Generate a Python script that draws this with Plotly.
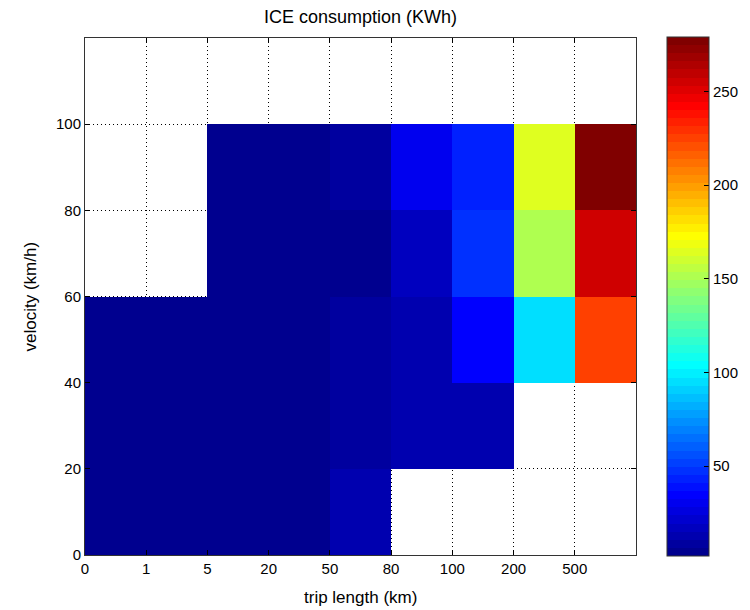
import numpy as np
import plotly.graph_objects as go

# Data
trip_edges = ["0", "1", "5", "20", "50", "80", "100", "200", "500"]
velocity_ticks = [0, 20, 40, 60, 80, 100]
NaN = None
# rows: velocity bins 0-20, 20-40, 40-60, 60-80, 80-100, 100-120 ; cols: 9 trip length bins
row_0_20 = [3, 3, 4, 4, 13, NaN, NaN, NaN, NaN]
row_20_40 = [3, 3, 4, 4, 8, 13, 14, NaN, NaN]
row_40_60 = [3, 3, 4, 4, 8, 14, 36, 96, 226]
row_60_80 = [NaN, NaN, 4, 4, 2, 19, 47, 151, 257]
row_80_100 = [NaN, NaN, 4, 4, 9, 28, 41, 165, 278]
row_100_120 = [NaN] * 9
z = [row_0_20, row_20_40, row_40_60, row_60_80, row_80_100, row_100_120]
cbar_ticks = [50, 100, 150, 200, 250]

# MATLAB jet(64)
def jet64():
    n = 64
    m = 16
    u = [i / m for i in range(1, m + 1)] + [1.0] * (m - 1) + [i / m for i in range(m, 0, -1)]
    g = [8 + i for i in range(1, len(u) + 1)]
    r = [gi + m for gi in g]
    b = [gi - m for gi in g]
    J = np.zeros((n, 3))
    for k in range(len(u)):
        if 1 <= r[k] <= n:
            J[r[k] - 1, 0] = u[k]
        if 1 <= g[k] <= n:
            J[g[k] - 1, 1] = u[k]
        if 1 <= b[k] <= n:
            J[b[k] - 1, 2] = u[k]
    return J

J = jet64()
colorscale = []
for k in range(64):
    c = "rgb(%d,%d,%d)" % tuple(int(round(v * 255)) for v in J[k])
    colorscale.append([k / 64, c])
    colorscale.append([(k + 1) / 64, c])

x_centers = [i + 0.5 for i in range(9)]
y_centers = [10, 30, 50, 70, 90, 110]

# page body has an 8px offset; figure coordinates below compensate
L, T = 77, 30
PR, PB = 628, 547
W, H = 750, 610
R, B = W - PR, H - PB
PW = PR - L
FONT = "Liberation Sans, Arial, Helvetica"

fig = go.Figure(go.Heatmap(
    z=z, x=x_centers, y=y_centers,
    colorscale=colorscale, zmin=2, zmax=279,
    hoverongaps=False,
    colorbar=dict(
        x=(659 - L) / PW, xanchor="left", xref="paper",
        y=0.5, yanchor="middle", yref="paper",
        lenmode="pixels", len=519, ypad=0, xpad=0, thickness=42,
        outlinecolor="#333333", outlinewidth=1,
        tickvals=cbar_ticks, ticks="inside", ticklen=5, tickcolor="black",
        tickfont=dict(family=FONT, size=15, color="black"),
    ),
))

fig.update_layout(
    width=W, height=H,
    margin=dict(l=L, r=R, t=T, b=B, autoexpand=False),
    paper_bgcolor="white", plot_bgcolor="white",
    title=dict(text="ICE consumption (KWh)", x=((L + PR) / 2) / W, xanchor="center",
               y=1 - 9 / H, yanchor="middle", yref="container",
               font=dict(family=FONT, size=18, color="black")),
    font=dict(family=FONT, size=15, color="black"),
    annotations=[
        dict(text="trip length (km)", xref="paper", yref="paper", x=0.5, y=0,
             yshift=-42, showarrow=False, xanchor="center", yanchor="middle",
             font=dict(family=FONT, size=17, color="black")),
        dict(text="velocity (km/h)", xref="paper", yref="paper", x=0, y=0.5,
             xshift=-(L - 22), showarrow=False, textangle=-90, xanchor="center", yanchor="middle",
             font=dict(family=FONT, size=17, color="black")),
    ],
)
dot = "1px,3px"
fig.update_xaxes(
    range=[0, 9], tickvals=list(range(9)), ticktext=trip_edges,
    showgrid=True, gridcolor="black", griddash=dot, gridwidth=1,
    showline=True, linecolor="#333333", linewidth=1, mirror="ticks",
    ticks="inside", ticklen=5, tickcolor="black", zeroline=False, automargin=False,
    tickfont=dict(family=FONT, size=15, color="black"),
)
fig.update_yaxes(
    range=[0, 120], tickvals=velocity_ticks,
    showgrid=True, gridcolor="black", griddash=dot, gridwidth=1,
    showline=True, linecolor="#333333", linewidth=1, mirror="ticks",
    ticks="inside", ticklen=5, tickcolor="black", zeroline=False, automargin=False,
    tickfont=dict(family=FONT, size=15, color="black"),
)
fig.write_html("out.html")
